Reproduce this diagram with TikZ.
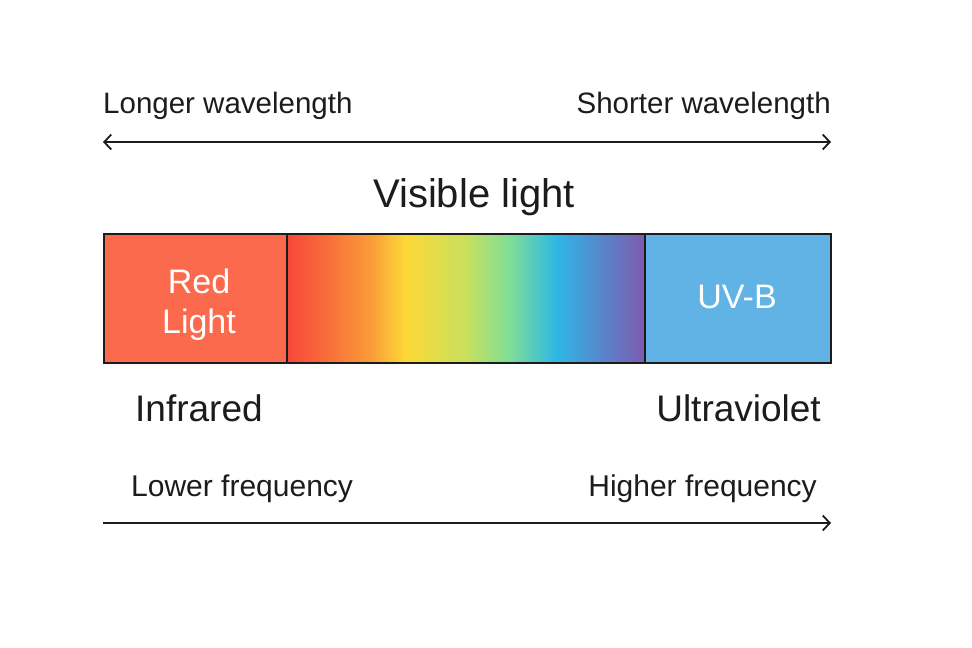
\documentclass[tikz,border=0pt]{standalone}
\usepackage{fontspec}
\setmainfont{Liberation Sans}
\usetikzlibrary{arrows.meta}
\definecolor{ink}{HTML}{1C1C1C}
\definecolor{redbox}{HTML}{FB6A4C}
\definecolor{uvbox}{HTML}{62B3E5}
\definecolor{sA}{HTML}{F5473A}
\definecolor{sB}{HTML}{F9663A}
\definecolor{sC}{HTML}{FA9A38}
\definecolor{sD}{HTML}{FDD836}
\definecolor{sE}{HTML}{C8E05E}
\definecolor{sF}{HTML}{80DE96}
\definecolor{sG}{HTML}{2FB8E4}
\definecolor{sH}{HTML}{5785CC}
\definecolor{sI}{HTML}{7E5BAE}
\pgfdeclarehorizontalshading{spectrum}{100bp}{color(0bp)=(sA); color(25bp)=(sA); color(29.5bp)=(sB); color(36.5bp)=(sC); color(41.5bp)=(sD); color(50bp)=(sE); color(56bp)=(sF); color(62.5bp)=(sG); color(69bp)=(sH); color(75bp)=(sI); color(100bp)=(sI)}
\begin{document}
\begin{tikzpicture}[x=1pt,y=-1pt,
  axislbl/.style={font=\fontsize{29.5}{34}\selectfont, text=ink, inner sep=0pt},
  freqlbl/.style={font=\fontsize{30}{34}\selectfont, text=ink, inner sep=0pt},
  bandlbl/.style={font=\fontsize{37}{40}\selectfont, text=ink, inner sep=0pt},
  boxtxt/.style={font=\fontsize{34}{40}\selectfont, text=white, inner sep=0pt},
  band/.style={draw=ink, line width=2pt, inner sep=0pt, outer sep=0pt, minimum height=129pt, anchor=north west},
  axisline/.style={draw=ink, line width=1.8pt, arrows={-{Straight Barb[length=7pt,width=15pt,line width=1.8pt]}}},
]
\useasboundingbox (0,0) rectangle (972,648);
\fill[white] (0,0) rectangle (972,648);

% wavelength axis
\node[axislbl, anchor=base west] (longer) at (103,113) {Longer wavelength};
\node[axislbl, anchor=base east] (shorter) at (831,113) {Shorter wavelength};
\coordinate (wl) at (103,142);
\coordinate (wr) at (831,142);
\draw[axisline, arrows={{Straight Barb[length=7pt,width=15pt,line width=1.8pt]}-{Straight Barb[length=7pt,width=15pt,line width=1.8pt]}}] (wl) -- (wr);

% title
\node[font=\fontsize{40}{44}\selectfont, text=ink, inner sep=0pt, anchor=base] (vis) at (474,207) {Visible light};

% bands
\node[band, fill=redbox, minimum width=183pt] (red) at (104,234) {};
\node[band, shading=spectrum, minimum width=358pt] (spec) at (287,234) {};
\node[band, fill=uvbox, minimum width=186pt] (uvb) at (645,234) {};

\node[boxtxt, anchor=base] (redt1) at (199,293) {Red};
\node[boxtxt, anchor=base] (redt2) at (199,333) {Light};
\node[boxtxt, anchor=base] (uvbt) at (737,308) {UV-B};

% region labels
\node[bandlbl, anchor=base west] (ir) at (135,421) {Infrared};
\node[bandlbl, anchor=base east] (uv) at (821,421) {Ultraviolet};

% frequency axis
\node[freqlbl, anchor=base west] (lower) at (131,496) {Lower frequency};
\node[freqlbl, anchor=base east] (higher) at (817,496) {Higher frequency};
\coordinate (fl) at (103,523);
\coordinate (fr) at (831,523);
\draw[axisline] (fl) -- (fr);
\end{tikzpicture}
\end{document}
